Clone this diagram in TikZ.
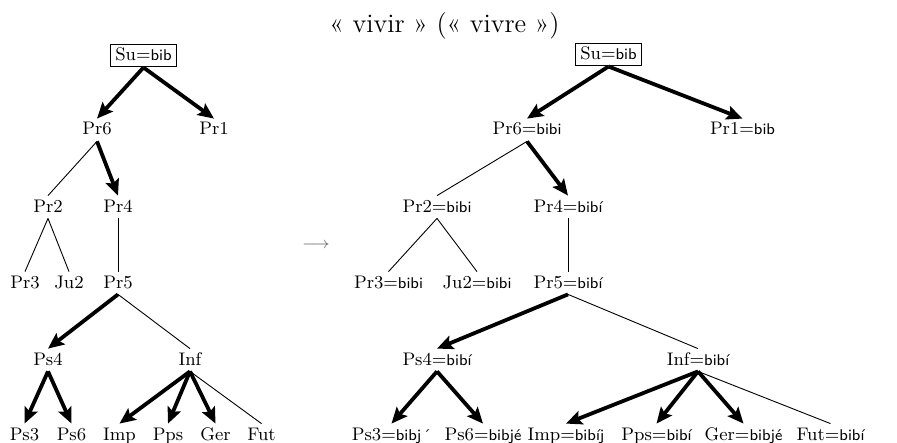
\documentclass[tikz,border=0pt]{standalone}
\usepackage{fontspec}
\usetikzlibrary{arrows.meta}
\newcommand\phon[1]{{\fontsize{7.8}{9}\selectfont\sffamily #1}}
\begin{document}
\begin{tikzpicture}[x=0.5pt,y=-0.5pt,
  lab/.style={anchor=base, font=\fontsize{9.1}{11}\selectfont, text height=6pt, text depth=1pt, inner ysep=2pt, inner xsep=1pt},
  boxed/.style={lab, draw, line width=0.5pt, inner xsep=2.5pt},
  thinedge/.style={line width=0.45pt},
  heavy/.style={line width=1.9pt, -{Stealth[length=8pt,width=7pt,inset=1.5pt]}}]
\useasboundingbox (0,0) rectangle (897,443);
\node[anchor=base, font=\fontsize{13.3}{16}\selectfont, inner sep=0pt] (title) at (444.5,33) {« vivir » (« vivre »)};
\node[text=black!60, font=\fontsize{8.5}{10}\selectfont, inner sep=0pt] (arr) at (316,245) {$\longrightarrow$};
% left tree
\node[boxed] (Su) at (143.5,61) {Su=\phon{bib}};
\node[lab] (Pr6) at (97,135) {Pr6};
\node[lab] (Pr1) at (214,135) {Pr1};
\node[lab] (Pr2) at (48,212) {Pr2};
\node[lab] (Pr4) at (118,212) {Pr4};
\node[lab] (Pr3) at (25,288) {Pr3};
\node[lab] (Ju2) at (69,288) {Ju2};
\node[lab] (Pr5) at (118,288) {Pr5};
\node[lab] (Ps4) at (48,365) {Ps4};
\node[lab] (Inf) at (190,365) {Inf};
\node[lab] (Ps3) at (24.5,440) {Ps3};
\node[lab] (Ps6) at (71.5,440) {Ps6};
\node[lab] (Imp) at (119.5,440) {Imp};
\node[lab] (Pps) at (168,440) {Pps};
\node[lab] (Ger) at (215.5,440) {Ger};
\node[lab] (Fut) at (261.5,440) {Fut};
\draw[heavy] (Su.south) -- (Pr6.north);
\draw[heavy] (Su.south) -- (Pr1.north);
\draw[thinedge] (Pr6.south) -- (Pr2.north);
\draw[heavy] (Pr6.south) -- (Pr4.north);
\draw[thinedge] (Pr2.south) -- (Pr3.north);
\draw[thinedge] (Pr2.south) -- (Ju2.north);
\draw[thinedge] (Pr4.south) -- (Pr5.north);
\draw[heavy] (Pr5.south) -- (Ps4.north);
\draw[thinedge] (Pr5.south) -- (Inf.north);
\draw[heavy] (Ps4.south) -- (Ps3.north);
\draw[heavy] (Ps4.south) -- (Ps6.north);
\draw[heavy] (Inf.south) -- (Imp.north);
\draw[heavy] (Inf.south) -- (Pps.north);
\draw[heavy] (Inf.south) -- (Ger.north);
\draw[thinedge] (Inf.south) -- (Fut.north);
% right tree
\node[boxed] (RSu) at (608.5,60) {Su=\phon{bib}};
\node[lab] (RPr6) at (527,135) {Pr6=\phon{bibi}};
\node[lab] (RPr1) at (742.5,135) {Pr1=\phon{bib}};
\node[lab] (RPr2) at (437,212) {Pr2=\phon{bibi}};
\node[lab] (RPr4) at (568,212) {Pr4=\phon{bibí}};
\node[lab] (RPr3) at (388.5,288) {Pr3=\phon{bibi}};
\node[lab] (RJu2) at (477,288) {Ju2=\phon{bibi}};
\node[lab] (RPr5) at (568,288) {Pr5=\phon{bibí}};
\node[lab] (RPs4) at (437,365) {Ps4=\phon{bibí}};
\node[lab] (RInf) at (698,365) {Inf=\phon{bibí}};
\node[lab] (RPs3) at (391.5,440) {Ps3=\phon{bibj\kern0.8pt´}};
\node[lab] (RPs6) at (483,440) {Ps6=\phon{bibjé}};
\node[lab] (RImp) at (566,440) {Imp=\phon{bibíj}};
\node[lab] (RPps) at (656.5,440) {Pps=\phon{bibí}};
\node[lab] (RGer) at (743.5,440) {Ger=\phon{bibjé}};
\node[lab] (RFut) at (830.5,440) {Fut=\phon{bibí}};
\draw[heavy] (RSu.south) -- (RPr6.north);
\draw[heavy] (RSu.south) -- (RPr1.north);
\draw[thinedge] (RPr6.south) -- (RPr2.north);
\draw[heavy] (RPr6.south) -- (RPr4.north);
\draw[thinedge] (RPr2.south) -- (RPr3.north);
\draw[thinedge] (RPr2.south) -- (RJu2.north);
\draw[thinedge] (RPr4.south) -- (RPr5.north);
\draw[heavy] (RPr5.south) -- (RPs4.north);
\draw[thinedge] (RPr5.south) -- (RInf.north);
\draw[heavy] (RPs4.south) -- (RPs3.north);
\draw[heavy] (RPs4.south) -- (RPs6.north);
\draw[heavy] (RInf.south) -- (RImp.north);
\draw[heavy] (RInf.south) -- (RPps.north);
\draw[heavy] (RInf.south) -- (RGer.north);
\draw[thinedge] (RInf.south) -- (RFut.north);
\end{tikzpicture}
\end{document}
